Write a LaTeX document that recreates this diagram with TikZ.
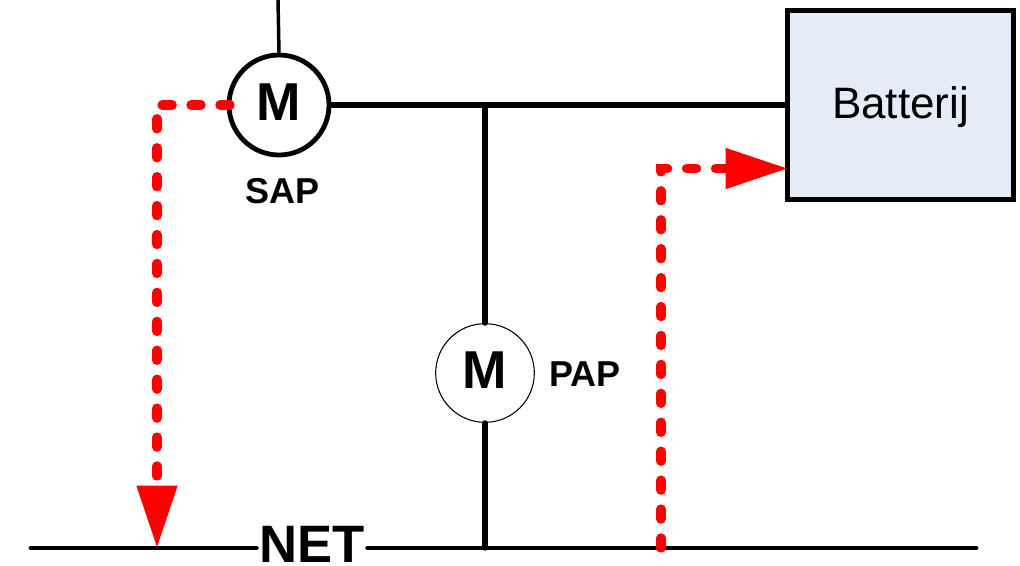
\documentclass[tikz,border=0pt]{standalone}
\usepackage{fontspec}
\setmainfont{Liberation Sans}
\usetikzlibrary{arrows.meta}
\definecolor{boxfill}{HTML}{E6ECF7}
\tikzset{
  wire/.style={line width=3.9pt,line cap=round},
  thinwire/.style={line width=2.6pt,line cap=round},
  netwire/.style={line width=3.6pt,line cap=round},
  motor/.style={circle,draw,fill=white,inner sep=0pt,minimum size=75pt,font=\fontsize{40}{40}\selectfont\bfseries},
  tag/.style={inner sep=0pt,font=\fontsize{27}{27}\selectfont\bfseries},
  flow/.style={draw=red,line width=7pt,line cap=round,dash pattern=on 7.5pt off 14.2pt},
  flowtip/.style={-{Triangle[length=46pt,width=31pt,line width=0pt,color=red]}},
}
\begin{document}
\begin{tikzpicture}[x=0.75pt,y=-0.75pt]
\useasboundingbox (0,0) rectangle (1020,565);
% nodes
\node[motor,line width=3.6pt] (sap) at (279,105) {\raisebox{3.6pt}{M}};
\node[motor,line width=0.8pt,minimum size=74pt] (pap) at (485,373) {\raisebox{5pt}{M}};
\node[draw,line width=3.6pt,fill=boxfill,minimum width=169pt,minimum height=142pt,inner sep=0pt,text height=27pt,font=\fontsize{33}{33}\selectfont] (bat) at (900.5,105) {Batterij};
\node[tag] (saplabel) at (282.5,191.5) {SAP};
\node[tag] (paplabel) at (585,374.5) {PAP};
\node[inner sep=0pt,font=\fontsize{39.5}{39.5}\selectfont\bfseries] (net) at (312,544.5) {NET};
% free ends and junctions
\coordinate (top) at (278,0);
\coordinate (netL) at (31,548);
\coordinate (netR) at (976,548);
\coordinate (jtop) at (485,105);
\coordinate (jbot) at (485,548);
\coordinate (sapC) at (157,105);
\coordinate (sapS) at (230,105);
\coordinate (sapE) at (157,547);
\coordinate (batS) at (661,548);
\coordinate (batC) at (661,168.5);
\coordinate (batE) at (787,168.5);
% wires
\draw[thinwire] (top) -- (sap.north);
\draw[wire] (sap.east) -- (bat.west);
\draw[wire] (jtop) -- (pap.north);
\draw[wire] (pap.south) -- (jbot);
\draw[netwire] (netL) -- ([xshift=-2pt]net.west |- netL);
\draw[netwire] ([xshift=2pt]net.east |- netR) -- (netR);
% flows
\draw[flow,flowtip] (sapS) -- (sapC) -- (sapE);
\draw[flow,flowtip] (batS) -- (batC) -- (batE);
\end{tikzpicture}
\end{document}
